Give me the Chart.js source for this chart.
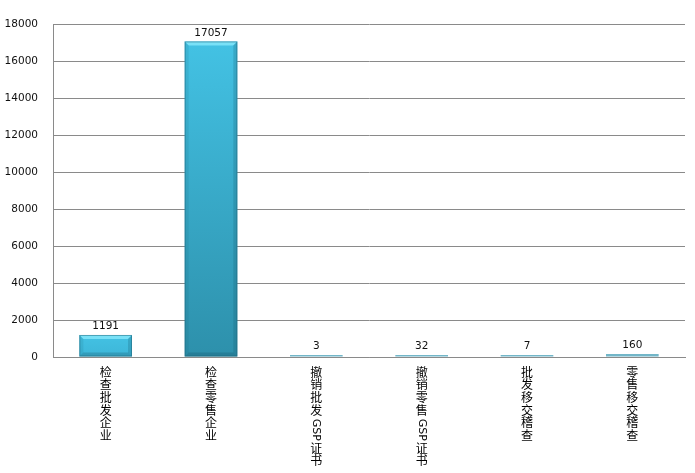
<!DOCTYPE html>
<html>
<head>
<meta charset="utf-8">
<script src="https://cdn.jsdelivr.net/npm/chart.js@4/dist/chart.umd.min.js"></script>
<style>
html,body{margin:0;padding:0;background:#fff;}
#wrap{width:695px;height:473px;position:relative;}
</style>
</head>
<body>
<div id="wrap"><canvas id="c" width="695" height="473"></canvas></div>
<script>
const categories = ['检查批发企业','检查零售企业','撤销批发GSP证书','撤销零售GSP证书','批发移交稽查','零售移交稽查'];
const values = [1191, 17057, 3, 32, 7, 160];
const yMin = 0, yMax = 18000, yStep = 2000;

const numFont = '10.5px "DejaVu Sans"';
const cjkFont = '12px "Noto Sans CJK SC"';

function mix(a, b, t){
  const pa = a.match(/\w\w/g).map(h => parseInt(h,16));
  const pb = b.match(/\w\w/g).map(h => parseInt(h,16));
  return 'rgb(' + pa.map((v,i) => Math.round(v + (pb[i]-v)*t)).join(',') + ')';
}

function barFill(ctx){
  const chart = ctx.chart;
  if(!chart.chartArea) return '#3bb5d8';
  const ys = chart.scales.y;
  const base = ys.getPixelForValue(0);
  let top = ys.getPixelForValue(ctx.raw);
  if (base - top < 3) {
    return '#72b6c8';
  }
  const frac = Math.min(1, (base - top) / (chart.chartArea.bottom - chart.chartArea.top));
  const g = chart.ctx.createLinearGradient(0, top, 0, base);
  g.addColorStop(0, '#43c2e4');
  g.addColorStop(1, mix('40bde1', '2c8ea8', Math.max(0.15, frac)));
  return g;
}

const bevelPlugin = {
  id: 'bevel',
  afterDatasetsDraw(chart){
    const c = chart.ctx;
    const meta = chart.getDatasetMeta(0);
    c.save();
    meta.data.forEach(bar => {
      const {x, y, base, width} = bar.getProps(['x','y','base','width'], true);
      const l = x - width/2, r = x + width/2, h = base - y;
      if (h < 6) return;
      const b = 4;
      c.fillStyle = 'rgba(130,230,250,0.85)';
      c.beginPath();
      c.moveTo(l, y); c.lineTo(r, y); c.lineTo(r-b, y+b); c.lineTo(l+b, y+b); c.closePath(); c.fill();
      c.fillStyle = 'rgba(20,80,100,0.22)';
      c.beginPath();
      c.moveTo(r, y); c.lineTo(r, base); c.lineTo(r-b, base-b); c.lineTo(r-b, y+b); c.closePath(); c.fill();
      c.fillStyle = 'rgba(20,90,110,0.12)';
      c.beginPath();
      c.moveTo(l, y); c.lineTo(l+b, y+b); c.lineTo(l+b, base-b); c.lineTo(l, base); c.closePath(); c.fill();
      c.fillStyle = 'rgba(20,70,90,0.25)';
      c.beginPath();
      c.moveTo(l, base); c.lineTo(l+b, base-b); c.lineTo(r-b, base-b); c.lineTo(r, base); c.closePath(); c.fill();
      c.strokeStyle = 'rgba(30,100,120,0.5)';
      c.lineWidth = 1;
      c.strokeRect(l+0.5, y+0.5, width-1, h-1);
    });
    c.restore();
  }
};

const valueLabelPlugin = {
  id: 'valueLabels',
  afterDatasetsDraw(chart){
    const c = chart.ctx;
    const meta = chart.getDatasetMeta(0);
    c.save();
    c.font = numFont;
    c.fillStyle = '#111';
    c.textAlign = 'center';
    c.textBaseline = 'middle';
    meta.data.forEach((bar, i) => {
      c.fillText(String(values[i]), bar.x, bar.y - 8.5);
    });
    c.restore();
  }
};

const verticalLabelPlugin = {
  id: 'verticalLabels',
  afterDraw(chart){
    const c = chart.ctx;
    const xs = chart.scales.x;
    const step = 12.7;
    c.save();
    c.fillStyle = '#000';
    categories.forEach((lab, i) => {
      const x = xs.getPixelForTick(i);
      let y = xs.top + 10;
      const runs = lab.match(/[A-Za-z0-9]+|[^A-Za-z0-9]/g);
      runs.forEach(run => {
        if (/^[A-Za-z0-9]+$/.test(run)) {
          c.font = '11px "DejaVu Sans"';
          const w = c.measureText(run).width;
          c.save();
          c.translate(x, y + 1);
          c.rotate(Math.PI/2);
          c.textAlign = 'left';
          c.textBaseline = 'middle';
          c.fillText(run, 0, 0);
          c.restore();
          y += w + 3;
        } else {
          c.font = cjkFont;
          c.textAlign = 'center';
          c.textBaseline = 'top';
          c.fillText(run, x, y - 1);
          y += step;
        }
      });
    });
    c.restore();
  }
};

new Chart(document.getElementById('c'), {
  type: 'bar',
  data: {
    labels: categories,
    datasets: [{
      data: values,
      backgroundColor: barFill,
      borderWidth: 0,
      barPercentage: 0.5,
      categoryPercentage: 1.0,
      minBarLength: 2
    }]
  },
  options: {
    responsive: false,
    animation: false,
    devicePixelRatio: 1,
    layout: { padding: { top: 24, right: 10, left: 0, bottom: 0 } },
    plugins: { legend: { display: false }, tooltip: { enabled: false } },
    scales: {
      x: {
        grid: { display: false },
        border: { display: true, color: '#8a8a8a', width: 1 },
        ticks: { display: false },
        afterFit(scale){ scale.height = 116; }
      },
      y: {
        min: yMin, max: yMax,
        ticks: { stepSize: yStep, color: '#111', font: { family: 'DejaVu Sans', size: 10.5 }, padding: 15,
                 callback: v => String(v) },
        grid: { color: '#8a8a8a', lineWidth: 1, drawTicks: false },
        border: { display: true, color: '#8a8a8a', width: 1 },
        afterFit(scale){ scale.width = 53; }
      }
    }
  },
  plugins: [bevelPlugin, valueLabelPlugin, verticalLabelPlugin]
});
</script>
</body>
</html>
